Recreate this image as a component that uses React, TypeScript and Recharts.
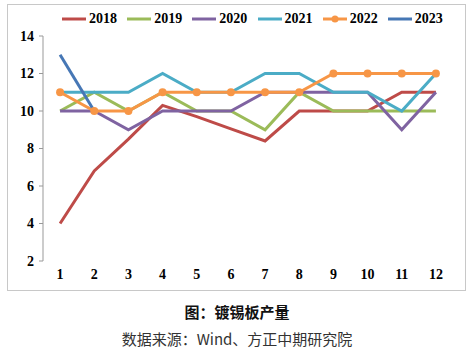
import React from 'react';
import { LineChart, Line, XAxis, YAxis, Legend } from 'recharts';

const months = [1, 2, 3, 4, 5, 6, 7, 8, 9, 10, 11, 12];
const y2018 = [4, 6.8, 8.5, 10.3, 9.7, 9.05, 8.4, 10, 10, 10, 11, 11];
const y2019 = [10, 11, 10, 11, 10, 10, 9, 11, 10, 10, 10, 10];
const y2020 = [10, 10, 9, 10, 10, 10, 11, 11, 11, 11, 9, 11];
const y2021 = [11, 11, 11, 12, 11, 11, 12, 12, 11, 11, 10, 12];
const y2022 = [11, 10, 10, 11, 11, 11, 11, 11, 12, 12, 12, 12];
const y2023 = [13, 10];
const yTicks = [2, 4, 6, 8, 10, 12, 14];

const series = [
  { key: '2018', color: '#BE4B48', values: y2018 },
  { key: '2019', color: '#9BBB59', values: y2019 },
  { key: '2020', color: '#7F63A1', values: y2020 },
  { key: '2021', color: '#4BACC6', values: y2021 },
  { key: '2022', color: '#F79646', values: y2022, dot: true },
  { key: '2023', color: '#4677B5', values: y2023 },
];

const data = months.map((m, i) => {
  const row: any = { m };
  series.forEach((s) => {
    row[s.key] = i < s.values.length ? s.values[i] : null;
  });
  return row;
});

const boundaries = [...months.map((m) => m - 0.5), months[months.length - 1] + 0.5];

const serif = "'Times New Roman', 'Liberation Serif', serif";
const cjk = "'Noto Sans CJK SC', sans-serif";

const LegendBox = () => (
  <div style={{ height: 34, display: 'flex', alignItems: 'center', paddingLeft: 62 }}>
    {series.map((s) => (
      <div key={s.key} style={{ width: 65.2, display: 'flex', alignItems: 'center' }}>
        <svg width={24} height={10} style={{ marginRight: 3 }}>
          <line x1={0} y1={5} x2={24} y2={5} stroke={s.color} strokeWidth={3} />
          {s.dot && <circle cx={12} cy={5} r={3.5} fill={s.color} />}
        </svg>
        <span style={{ fontFamily: serif, fontWeight: 'bold', fontSize: 14, color: '#000' }}>{s.key}</span>
      </div>
    ))}
  </div>
);

export default function App() {
  return (
    <div style={{ position: 'absolute', left: 0, top: 0, width: 474, height: 354, background: '#fff' }}>
      <div
        style={{
          position: 'absolute', left: 7, top: 4, width: 457, height: 285,
          border: '1px solid #c8c8c8',
        }}
      />
      <div style={{ position: 'absolute', left: 0, top: 0 }}>
        <LineChart width={474} height={290} data={data} margin={{ top: 2, right: 21, left: 0, bottom: 4 }}>
          <XAxis
            xAxisId="grid"
            type="number"
            dataKey="m"
            domain={[0.5, 12.5]}
            ticks={boundaries}
            tick={false}
            tickSize={5}
            height={0}
            stroke="#999"
          />
          <XAxis
            xAxisId="lab"
            type="number"
            dataKey="m"
            domain={[0.5, 12.5]}
            ticks={months}
            axisLine={false}
            tickLine={false}
            tickSize={5}
            tickMargin={3}
            height={25}
            tick={{ fontFamily: serif, fontWeight: 'bold', fontSize: 14, fill: '#000' }}
          />
          <YAxis
            domain={[2, 14]}
            ticks={yTicks}
            width={43}
            stroke="#999"
            tickSize={4}
            tickMargin={5}
            tick={{ fontFamily: serif, fontWeight: 'bold', fontSize: 14, fill: '#000' }}
          />
          <Legend verticalAlign="top" content={<LegendBox />} />
          {series.map((s) => (
            <Line
              key={s.key}
              xAxisId="grid"
              dataKey={s.key}
              stroke={s.color}
              strokeWidth={3}
              dot={s.dot ? { r: 4, fill: s.color, stroke: s.color, strokeWidth: 0 } : false}
              type="linear"
              isAnimationActive={false}
            />
          ))}
        </LineChart>
      </div>
      <div
        style={{
          position: 'absolute', left: 0, width: 474, top: 302, textAlign: 'center',
          fontFamily: cjk, fontWeight: 'bold', fontSize: 15, color: '#111', lineHeight: '20px',
        }}
      >
        图：镀锡板产量
      </div>
      <div
        style={{
          position: 'absolute', left: 0, width: 474, top: 329, textAlign: 'center',
          fontFamily: cjk, fontSize: 15, color: '#333', lineHeight: '20px',
        }}
      >
        数据来源：Wind、方正中期研究院
      </div>
    </div>
  );
}
